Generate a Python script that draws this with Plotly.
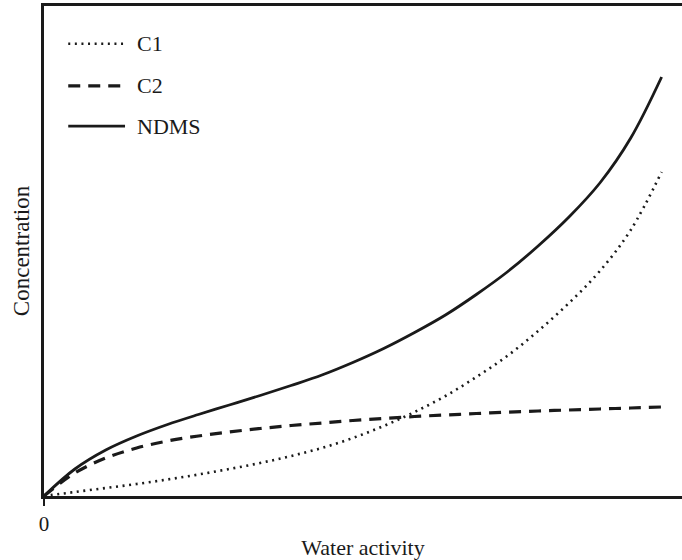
import plotly.graph_objects as go

# Water activity (fraction of the plotted range) and concentration readings
water_activity = [0.0, 0.05, 0.1, 0.15, 0.2, 0.25, 0.3, 0.35, 0.4, 0.45, 0.5,
                  0.55, 0.6, 0.65, 0.7, 0.75, 0.8, 0.85, 0.9, 0.95, 1.0]

c1 = [0, 4, 8, 12, 16.5, 21.5, 27, 33, 40, 48, 58,
      70, 84, 100, 119, 140, 165, 193, 225, 266, 324]
c2 = [0, 23, 38, 48, 55, 60, 64, 67.5, 70.5, 73, 75.5,
      77.5, 79.5, 81, 82.5, 83.8, 85, 86, 87, 88, 89]
ndms = [0, 27, 46, 60, 71.5, 81.5, 91, 100.5, 110.5, 121, 133.5,
        147.5, 163.5, 181, 201.5, 224, 250, 279, 313, 358, 419]

series_names = ["C1", "C2", "NDMS"]
series_values = [c1, c2, ndms]
series_dash = ["2px,4.6px", "12px,8px", "solid"]
series_width = [2.6, 3.2, 2.8]

x_title = "Water activity"
y_title = "Concentration"
x_tick_vals = [0]
x_tick_text = ["0"]

FONT = "Liberation Serif"
INK = "#1a1a1a"

fig = go.Figure()
for name, vals, dash, w in zip(series_names, series_values, series_dash, series_width):
    fig.add_trace(go.Scatter(
        x=water_activity, y=vals, name=name, mode="lines",
        line=dict(color=INK, width=w, dash=dash, shape="spline", smoothing=1.0),
        showlegend=False,
    ))

# Legend drawn as key lines with labels in the upper-left corner
legend_rows = [0.923, 0.837, 0.755]
for name, dash, w, yp in zip(series_names, series_dash, series_width, legend_rows):
    fig.add_shape(type="line", xref="paper", yref="paper",
                  x0=0.038, x1=0.127, y0=yp, y1=yp,
                  line=dict(color=INK, width=w, dash=dash))
    fig.add_annotation(text=name, xref="paper", yref="paper",
                       x=0.143, y=yp, xanchor="left", yanchor="middle",
                       showarrow=False, font=dict(family=FONT, size=22, color=INK))

fig.update_layout(
    width=682, height=560,
    margin=dict(l=44, r=0, t=6, b=64),
    paper_bgcolor="white", plot_bgcolor="white",
    font=dict(family=FONT, size=21, color=INK),
    showlegend=False,
)
fig.update_xaxes(
    range=[0, 1.033], showgrid=False, zeroline=False,
    showline=True, mirror=True, linecolor=INK, linewidth=2.5,
    ticks="outside", ticklen=7, tickwidth=2, tickcolor=INK,
    tickvals=x_tick_vals, ticktext=x_tick_text,
    tickfont=dict(family=FONT, size=21, color=INK),
    title=dict(text=x_title, font=dict(family=FONT, size=22, color=INK), standoff=10),
)
fig.update_yaxes(
    range=[0, 490], showgrid=False, zeroline=False,
    showline=True, mirror=False, linecolor=INK, linewidth=2.5,
    showticklabels=False, ticks="",
    title=dict(text=y_title, font=dict(family=FONT, size=23, color=INK), standoff=6),
)

fig.write_html("out.html")
